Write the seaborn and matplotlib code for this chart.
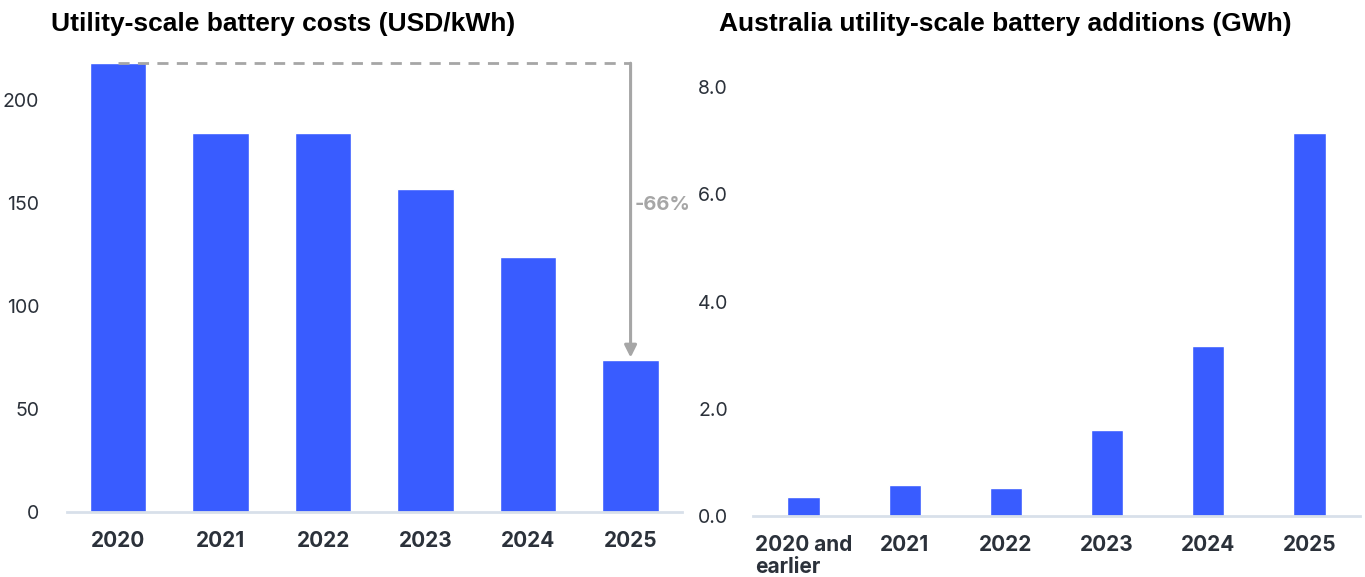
import matplotlib
matplotlib.use("Agg")
import matplotlib.pyplot as plt
import seaborn as sns
import pandas as pd

# Data
cost_years = ["2020", "2021", "2022", "2023", "2024", "2025"]
cost_values = [218, 184, 184, 157, 124, 74]
cost_ticks = [0, 50, 100, 150, 200]

add_years = ["2020 and\nearlier", "2021", "2022", "2023", "2024", "2025"]
add_values = [0.35, 0.58, 0.52, 1.6, 3.17, 7.15]
add_ticks = [0, 2, 4, 6, 8]

change_label = "-66%"

sns.set_theme(style="white")
plt.rcParams['font.family'] = ['Inter', 'DejaVu Sans']

BAR = "#395cff"
SPINE = "#d8e0ea"
TICK = "#2b313a"
GRAY = "#a6a6a6"

fig = plt.figure(figsize=(13.65, 5.77), dpi=100)
ax1 = fig.add_axes([0.049, 0.1127, 0.4505, 0.792])
ax2 = fig.add_axes([0.5516, 0.1057, 0.4447, 0.79])

df1 = pd.DataFrame({"year": cost_years, "value": cost_values})
df2 = pd.DataFrame({"year": add_years, "value": add_values})

sns.barplot(data=df1, x="year", y="value", color=BAR, width=0.55, ax=ax1, saturation=1)
sns.barplot(data=df2, x="year", y="value", color=BAR, width=0.32, ax=ax2, saturation=1)

ax1.set_ylim(0, 222)
ax1.set_yticks(cost_ticks)
ax1.set_yticklabels([str(t) for t in cost_ticks])
ax2.set_ylim(0, 8.5)
ax2.set_yticks(add_ticks)
ax2.set_yticklabels([f"{t:.1f}" for t in add_ticks])

for ax in (ax1, ax2):
    ax.set_xlim(-0.5, 5.5)
    ax.set_xlabel("")
    ax.set_ylabel("")
    for s in ("left", "right", "top"):
        ax.spines[s].set_visible(False)
    ax.spines["bottom"].set_color(SPINE)
    ax.spines["bottom"].set_linewidth(2)
    ax.tick_params(axis="both", length=0)
    ax.tick_params(axis="x", pad=14)
    for lab in ax.get_xticklabels():
        lab.set_fontweight("bold")
        lab.set_fontsize(15)
        lab.set_color(TICK)
        lab.set_linespacing(1.1)
        lab.set_multialignment("left")
        lab.set_verticalalignment("top")
    for lab in ax.get_yticklabels():
        lab.set_fontsize(14)
        lab.set_color(TICK)
    ax.grid(False)

ax1.tick_params(axis="y", pad=20)
ax2.tick_params(axis="y", pad=18)

# Annotation on left chart
ax1.plot([0, 5], [cost_values[0], cost_values[0]], color=GRAY, lw=2,
         linestyle=(0, (4, 3)), zorder=3)
ax1.annotate("", xy=(5, cost_values[-1] + 1), xytext=(5, cost_values[0]),
             arrowprops=dict(arrowstyle="-|>", color=GRAY, lw=2.2,
                             mutation_scale=18, shrinkA=0, shrinkB=0), zorder=3)
ax1.text(5.04, 149, change_label, color=GRAY, fontsize=14.5, fontweight="bold",
         ha="left", va="center")

fig.text(0.037, 0.958, "Utility-scale battery costs (USD/kWh)", fontsize=19,
         fontweight="bold", family=["Liberation Sans", "DejaVu Sans"],
         ha="left", va="center", color="#000000")
fig.text(0.527, 0.958, "Australia utility-scale battery additions (GWh)", fontsize=19,
         fontweight="bold", family=["Liberation Sans", "DejaVu Sans"],
         ha="left", va="center", color="#000000")

fig.savefig("out.png", dpi=100)
